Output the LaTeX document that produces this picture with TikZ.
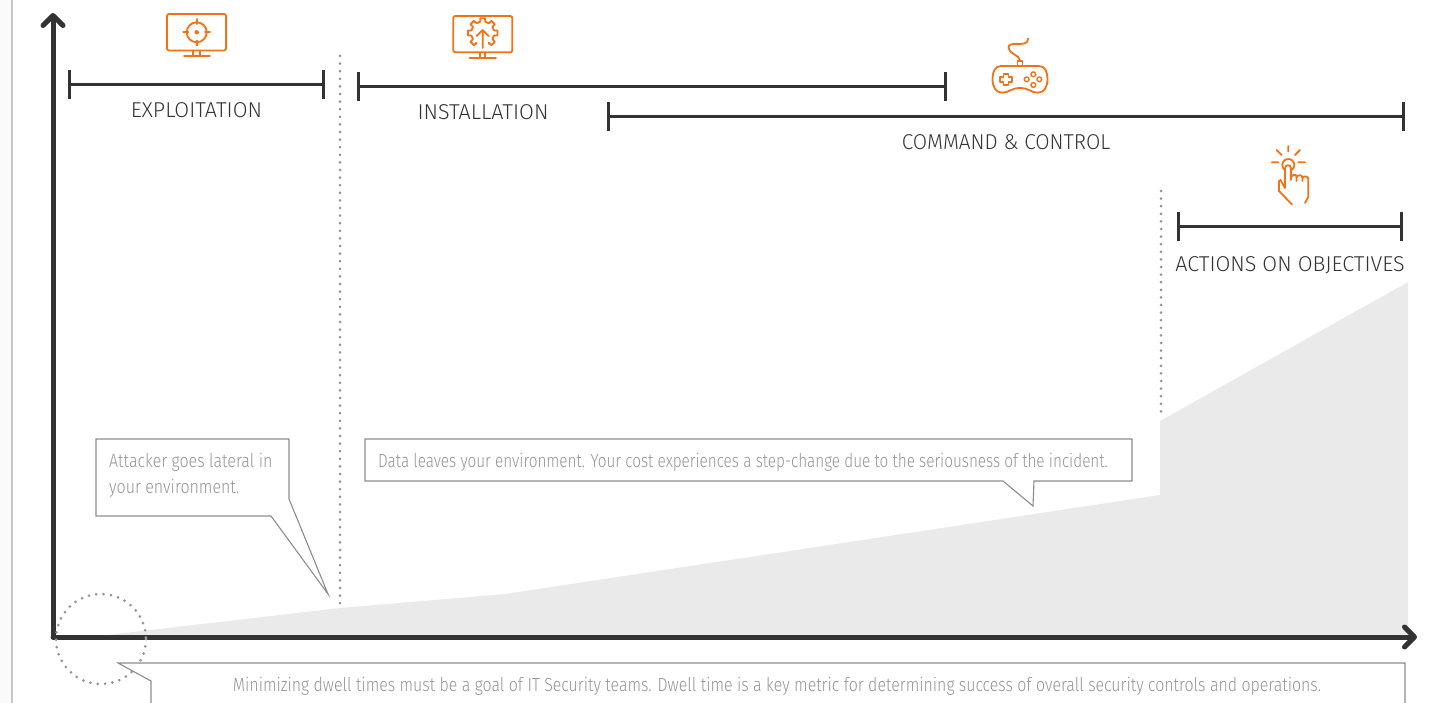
\documentclass[tikz,border=0pt]{standalone}
\usepackage{fontspec}
\setmainfont{Fira Sans Light}
\usepackage{xcolor}
\usetikzlibrary{arrows.meta}
\definecolor{axisgray}{HTML}{333333}
\definecolor{fillgray}{HTML}{EAEAEA}
\definecolor{boxgray}{HTML}{8C8C8C}
\definecolor{notegray}{HTML}{959595}
\definecolor{dotgray}{HTML}{959595}
\definecolor{iconorange}{HTML}{F47216}
\tikzset{
  axisline/.style={line width=5pt, color=axisgray, line cap=round, -{Straight Barb[length=10pt,width=20pt,line width=5pt,round]}},
  phasebar/.style={line width=3pt, color=axisgray, {Bar[width=29pt,line width=3pt]}-{Bar[width=29pt,line width=3pt]}, shorten >=-1pt, shorten <=-1pt},
  phaselabel/.style={text=axisgray, font=\fontsize{21.5}{26}\selectfont, inner sep=0pt},
  dotline/.style={line width=3pt, color=dotgray, line cap=round, dash pattern=on 0pt off 7.6pt},
  notebox/.style={draw=boxgray, line width=1.1pt, fill=white},
  notetext/.style={text=notegray, font=\fontsize{19}{26}\selectfont, inner sep=0pt, align=left, xscale=.805, transform shape},
  widenote/.style={notetext, xscale=1.04},
  icon/.style={draw=iconorange, line width=1.8pt, line cap=round, line join=round}
}
\begin{document}
\begin{tikzpicture}[x=1pt,y=-1pt]
    \useasboundingbox (0,0) rectangle (1436,703);
    % page edge
    \fill[black!2] (0,0) rectangle (12,703);
    \draw[line width=1.5pt, black!22] (12,0) -- (12,703);

    % cost area
    \fill[fillgray] (90,637) -- (340,608) -- (505,594) -- (1160,495) -- (1160,421) -- (1408,282) -- (1408,637) -- cycle;

    % axes
    \coordinate (origin) at (53,637);
    \coordinate (axistop) at (53,13);
    \coordinate (axisright) at (1417,637);
    \draw[axisline] (origin) -- (axistop);
    \draw[axisline] (origin) -- (axisright);

    % dotted markers
    \coordinate (lateraltop) at (340,56);
    \coordinate (lateralend) at (340,606);
    \coordinate (leavetop) at (1161,191);
    \coordinate (leaveend) at (1161,413);
    \draw[dotline] (lateraltop) -- (lateralend);
    \draw[dotline] (leavetop) -- (leaveend);
    \draw[dotline, dash pattern=on 0pt off 7.4pt] (101,639) circle (45);

    % phases
    \coordinate (exploitstart) at (69,84.5);
    \coordinate (exploitend) at (324,84.5);
    \draw[phasebar] (exploitstart) -- (exploitend);
    \node[phaselabel] (exploitlabel) at (196.5,110.5) {EXPLOITATION};

    \coordinate (installstart) at (358,86.5);
    \coordinate (installend) at (946,86.5);
    \draw[phasebar] (installstart) -- (installend);
    \node[phaselabel] (installlabel) at (483,112.5) {INSTALLATION};

    \coordinate (commandstart) at (608,116.5);
    \coordinate (commandend) at (1404,116.5);
    \draw[phasebar] (commandstart) -- (commandend);
    \node[phaselabel, xscale=.965, transform shape] (commandlabel) at (1006,142.5) {COMMAND \& CONTROL};

    \coordinate (actionstart) at (1178,226.5);
    \coordinate (actionend) at (1402,226.5);
    \draw[phasebar] (actionstart) -- (actionend);
    \node[phaselabel] (actionlabel) at (1290,265.5) {ACTIONS ON OBJECTIVES};

    % callouts
    \draw[notebox] (96,439) -- (289,439) -- (289,499) -- (328,594) -- (271,516) -- (96,516) -- cycle;
    \node[notetext, xscale=1.045, anchor=north west] (lateralnote) at (109,453) {Attacker goes lateral in\\your environment.};

    \draw[notebox] (365,439) -- (1132,439) -- (1132,481) -- (1034,481) -- (1033,506) -- (1003,481) -- (365,481) -- cycle;
    \node[notetext] (leavenote) at (743,462) {Data leaves your environment. Your cost experiences a step-change due to the seriousness of the incident.};

    \draw[notebox] (151,703.5) -- (151,681) -- (118,663) -- (1405,663) -- (1405,703.5);
    \node[widenote] (dwellnote) at (777,686) {Minimizing dwell times must be a goal of IT Security teams. Dwell time is a key metric for determining success of overall security controls and operations.};

    % target monitor
    \draw[icon, rounded corners=2pt] (167,14) rectangle (226,50.5);
    \draw[icon] (193.3,50.5) -- (193.3,56) (200,50.5) -- (200,56) (184,56) -- (210,56);
    \draw[icon] (196.7,32.3) circle (10);
    \draw[icon] (196.7,32.3) circle (1.5);
    \draw[icon] (196.7,19) -- (196.7,24) (196.7,40.6) -- (196.7,45.6) (183.4,32.3) -- (188.4,32.3) (205,32.3) -- (210,32.3);

    % gear monitor
    \draw[icon, rounded corners=2pt] (453.3,16) rectangle (512.3,52.3);
    \draw[icon] (480,52.3) -- (480,58) (485,52.3) -- (485,58) (469.5,58) -- (496,58);
    \draw[icon] (476,44) \foreach \a in {-225,-180,-135,-90,-45,0,45} {
      -- ([shift={(482.7,33)}]\a-13:11.5) -- ([shift={(482.7,33)}]\a-9:15) -- ([shift={(482.7,33)}]\a+9:15) -- ([shift={(482.7,33)}]\a+13:11.5)
    } -- (489,44);
    \draw[icon] (482.7,48) -- (482.7,30) (476.7,36) -- (482.7,30) -- (488.7,36);

    % game pad
    \draw[icon] (1001,66) -- (1039,66) .. controls (1045,66) and (1047.5,72) .. (1047.5,79) .. controls (1047.5,87) and (1044,92.7) .. (1038,92.7) .. controls (1031,92.7) and (1029,88) .. (1020,88) .. controls (1011,88) and (1009,92.7) .. (1002,92.7) .. controls (996,92.7) and (992.5,87) .. (992.5,79) .. controls (992.5,72) and (995,66) .. (1001,66) -- cycle;
    \draw[icon] (1017.5,66) rectangle (1022.5,60.7);
    \draw[icon] (1020,60.7) .. controls (1020,55) and (1009,54) .. (1008.5,48) .. controls (1008.5,44) and (1012,44) .. (1016,44) .. controls (1024,44) and (1028,44) .. (1028,38.5);
    \draw[icon] (1003.5,74) -- (1008.5,74) -- (1008.5,77) -- (1012,77) -- (1012,82) -- (1008.5,82) -- (1008.5,85) -- (1003.5,85) -- (1003.5,82) -- (1000,82) -- (1000,77) -- (1003.5,77) -- cycle;
    \foreach \bx/\by in {1033.3/74.3,1026.7/79.3,1039.3/79.3,1033.3/85}
      \draw[icon, line width=1.4pt] (\bx,\by) circle (2.4);

    % pointing hand
    \draw[icon] (1288.3,146) -- (1288.3,151.5) (1276.7,150) -- (1281.7,155) (1300,150) -- (1295,155) (1271.7,162.3) -- (1278.3,162.3) (1298.3,162.3) -- (1305,162.3);
    \draw[icon] (1285.3,170.2) arc (120:420:6);
    \draw[icon] (1285,188) -- (1285,168.5) .. controls (1285,164) and (1291,164) .. (1291,168.5) -- (1291,180);
    \draw[icon] (1285,188) -- (1280.5,180) -- (1279,181) -- (1279,191) -- (1292,204.5);
    \draw[icon] (1291,177) .. controls (1293,174) and (1296.5,174) .. (1296.5,177) -- (1296.5,181) (1296.5,177) .. controls (1298,174.5) and (1302.5,174.5) .. (1302.5,178) -- (1302.5,181) (1302.5,178) .. controls (1304,175.5) and (1308.3,176) .. (1308.3,179) -- (1308.3,197) -- (1305,203);
\end{tikzpicture}
\end{document}
